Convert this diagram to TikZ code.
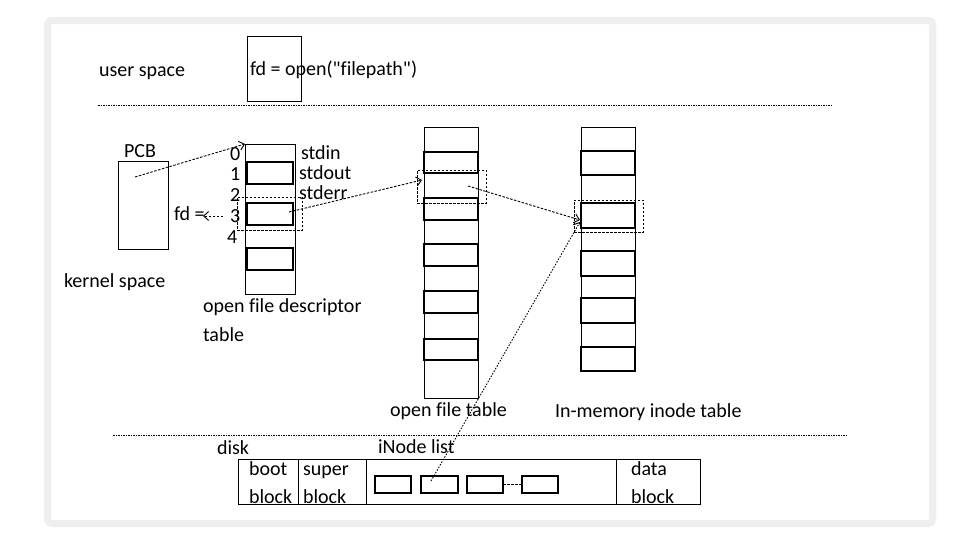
\documentclass[tikz,border=0pt]{standalone}
\usepackage{fontspec}
\setmainfont{Carlito}[Ligatures={TeXOff,NoCommon}]
\usetikzlibrary{arrows.meta}
\definecolor{framegray}{RGB}{239,239,239}
\begin{document}
\begin{tikzpicture}[x=1pt,y=-1pt,
  txt/.style={anchor=base west, inner sep=0pt, outer sep=0pt, font=\fontsize{20}{24}\selectfont},
  box/.style={draw, line width=0.8pt, inner sep=0pt, outer sep=0pt, anchor=north west},
  rowbox/.style={draw, line width=1.1pt, inner sep=0pt, outer sep=0pt, anchor=north west},
  hl/.style={draw, dashed, dash pattern=on 2.5pt off 1.5pt, line width=0.9pt, inner sep=0pt, outer sep=0pt, anchor=north west},
  sep/.style={line width=0.9pt, dash pattern=on 1.5pt off 1pt},
  arr/.style={line width=0.9pt, dash pattern=on 2.5pt off 1.5pt, -{Straight Barb[length=5pt,width=9pt]}},
  darr/.style={line width=0.9pt, dash pattern=on 1.5pt off 1.5pt, -{Straight Barb[length=5pt,width=9pt]}}
]
\useasboundingbox (0,0) rectangle (960,541);
\fill[white] (0,0) rectangle (960,541);
\draw[line width=7pt, framegray, rounded corners=4pt] (47.5,20.5) rectangle (932.5,523.5);

% user space
\node[txt] (us) at (99,76) {user space};
\node[box, minimum width=54, minimum height=65] (callbox) at (247,36) {};
\node[txt] (call) at (250,75) {fd = open("filepath")};
\coordinate (s1a) at (98,105);
\coordinate (s1b) at (831,105);
\draw[sep] (s1a) -- (s1b);

% PCB
\node[txt] (pcblab) at (124,157) {PCB};
\node[box, minimum width=50, minimum height=88] (pcb) at (118,161) {};
\node[txt] (ks) at (64,287) {kernel space};
\coordinate (pcbp) at (135,177);

% fd table
\node[box, minimum width=50, minimum height=150] (fdt) at (245,144) {};
\node[rowbox, minimum width=46, minimum height=22] (fd1) at (247,162) {};
\node[rowbox, minimum width=46, minimum height=22] (fd3) at (247,203) {};
\node[rowbox, minimum width=46, minimum height=22] (fd5) at (247,248) {};
\node[txt] (n0) at (230,160) {0};
\node[txt] (n1) at (230,180) {1};
\node[txt] (n2) at (230,201) {2};
\node[txt] (n3) at (230,222) {3};
\node[txt] (n4) at (227,243) {4};
\node[txt] (sin) at (301,159) {stdin};
\node[txt] (sout) at (299,179) {stdout};
\node[txt] (serr) at (299,199) {stderr};
\node[hl, minimum width=65, minimum height=33] (fdhl) at (237,197) {};
\node[txt] (fdeq) at (174,220) {fd =};
\coordinate (fdstart) at (223,216);
\coordinate (fdend) at (203,216);
\coordinate (fd3p) at (289,212);
\node[txt] (fdtl1) at (203,312) {open file descriptor};
\node[txt] (fdtl2) at (203,341) {table};

% open file table
\node[box, minimum width=54, minimum height=271] (oft) at (424,127) {};
\foreach \y/\h [count=\i] in {152/21,198/22,244/22,291/22,339/21}
  \node[rowbox, minimum width=54, minimum height=\h] (of\i) at (424,\y) {};
\node[hl, minimum width=69, minimum height=33] (ofhl) at (417,170) {};
\coordinate (ofin) at (422,180);
\coordinate (ofout) at (468,186);
\node[txt] (oftl) at (390,416) {open file table};

% in-memory inode table
\node[box, minimum width=54, minimum height=244] (imt) at (581,127) {};
\foreach \y/\h [count=\i] in {151/24,203/25,251/25,298/25,347/24}
  \node[rowbox, minimum width=54, minimum height=\h] (im\i) at (581,\y) {};
\node[hl, minimum width=69, minimum height=32] (imhl) at (574,200) {};
\coordinate (imin1) at (580,220);
\coordinate (imin2) at (580,222);
\node[txt] (imtl) at (555,417) {In-memory inode table};

% separator
\coordinate (s2a) at (113,435);
\coordinate (s2b) at (846,435);
\draw[sep] (s2a) -- (s2b);

% disk
\node[txt] (disk) at (217,454) {disk};
\node[txt] (inl) at (378,453) {iNode list};
\node[box, minimum width=462, minimum height=45] (dk) at (238,459) {};
\coordinate (d1t) at (298,459); \coordinate (d1b) at (298,504);
\coordinate (d2t) at (366,459); \coordinate (d2b) at (366,504);
\coordinate (d3t) at (616,459); \coordinate (d3b) at (616,504);
\draw[line width=0.8pt] (d1t) -- (d1b) (d2t) -- (d2b) (d3t) -- (d3b);
\node[txt] (boot) at (249,475) {boot};
\node[txt] (bblk) at (249,503) {block};
\node[txt] (super) at (303,475) {super};
\node[txt] (sblk) at (303,503) {block};
\node[txt] (data) at (631,475) {data};
\node[txt] (dblk) at (631,503) {block};
\node[rowbox, minimum width=36, minimum height=17] (ib1) at (375,476) {};
\node[rowbox, minimum width=37, minimum height=17] (ib2) at (421,476) {};
\node[rowbox, minimum width=36, minimum height=17] (ib3) at (467,476) {};
\node[rowbox, minimum width=36, minimum height=17] (ib4) at (522,476) {};
\draw[line width=0.9pt, dash pattern=on 2.5pt off 1.5pt] (ib3.east) -- (ib4.west);
\coordinate (ib2p) at (431,481);

% connectors
\draw[arr] (pcbp) -- (fdt.north west);
\draw[arr] (fdstart) -- (fdend);
\draw[arr] (fd3p) -- (ofin);
\draw[arr] (ofout) -- (imin1);
\draw[darr] (ib2p) -- (imin2);
\end{tikzpicture}
\end{document}
